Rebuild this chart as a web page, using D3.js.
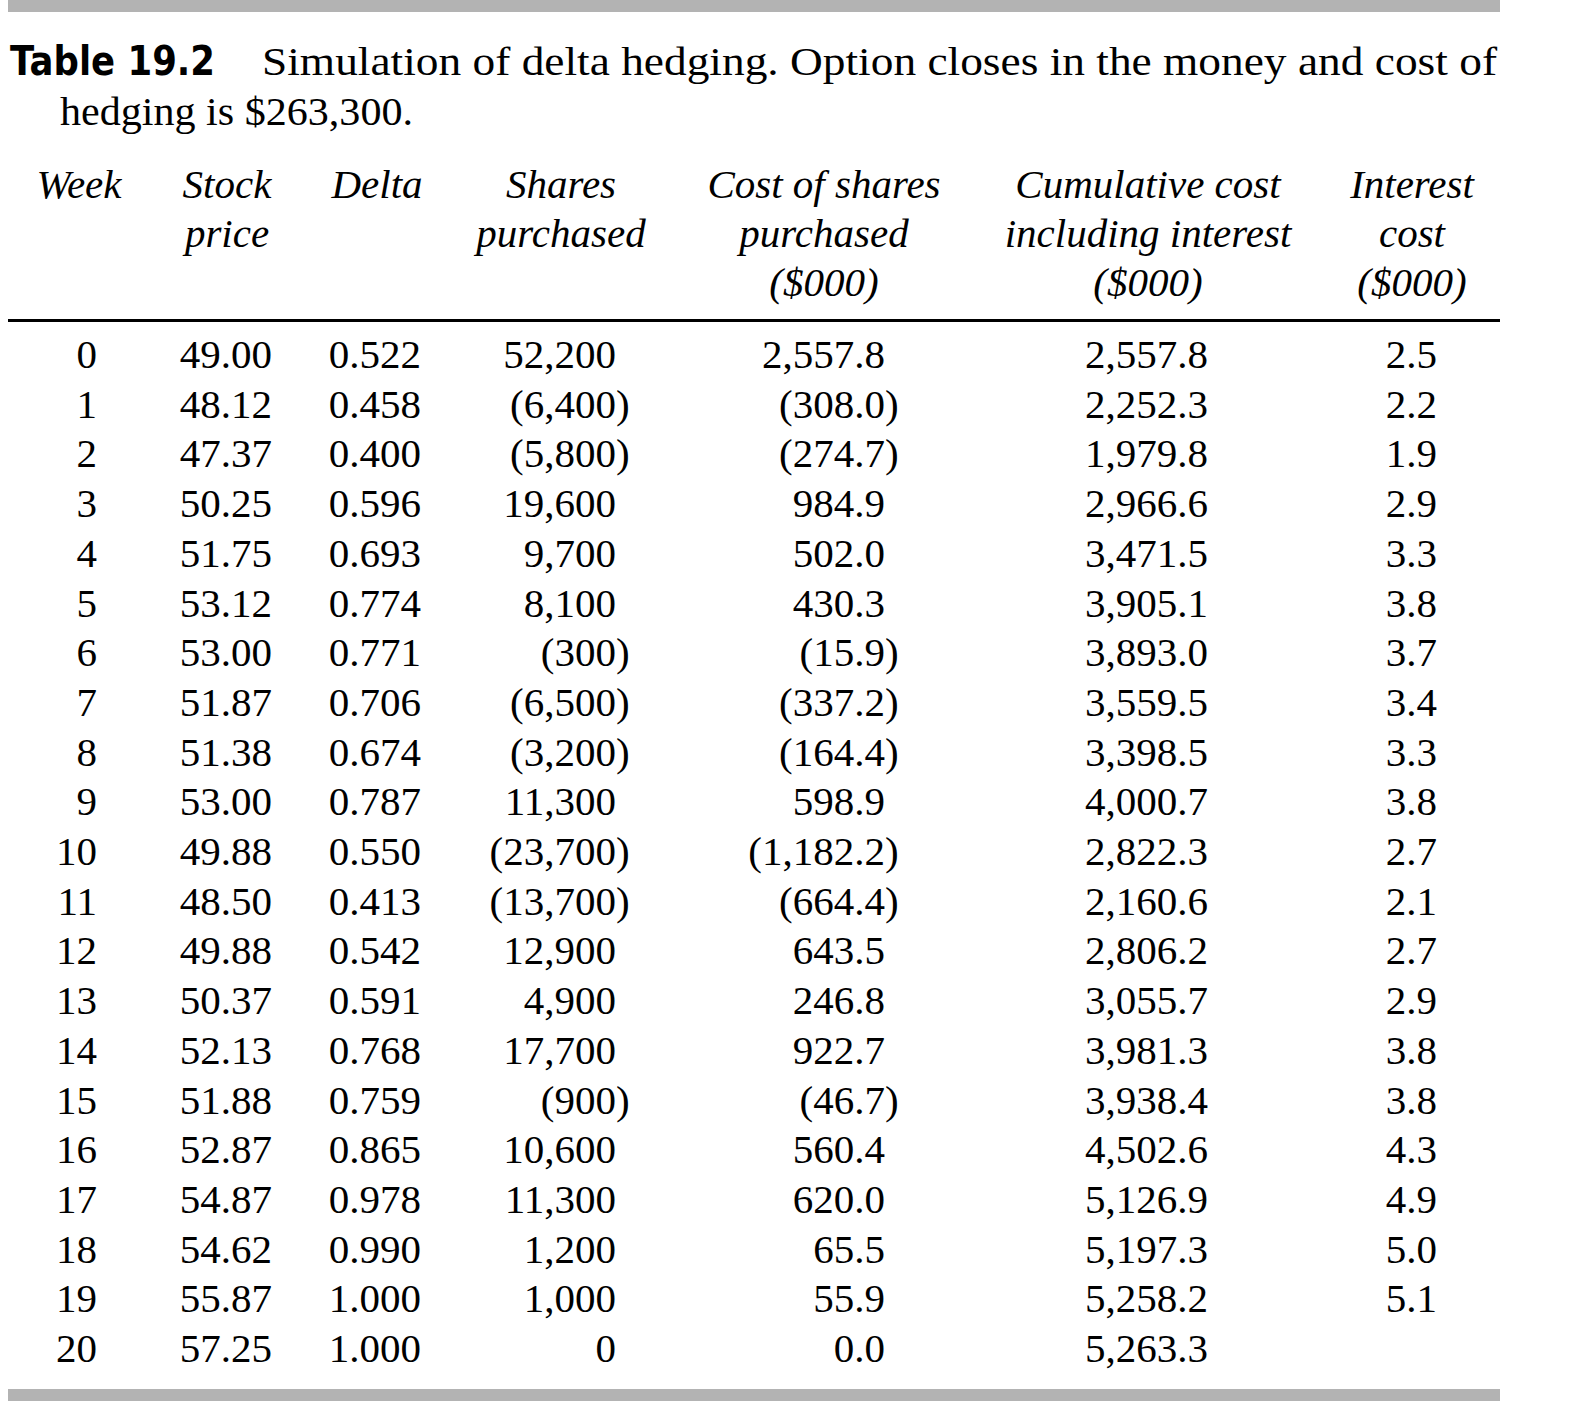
<!DOCTYPE html>
<html>
<head>
<meta charset="utf-8">
<script src="https://cdn.jsdelivr.net/npm/d3@7"></script>
<style>
  html, body { margin: 0; padding: 0; background: #fff; }
  svg { display: block; }
  .serif { font-family: "Liberation Serif", "Times New Roman", serif; }
</style>
</head>
<body>
<div id="chart"></div>
<script>
// ---------------- data ----------------
const titleLabel = "Table 19.2";
const titleLine1 = "Simulation of delta hedging. Option closes in the money and cost of";
const titleLine2 = "hedging is $263,300.";

const columnHeaders = [
  ["Week"],
  ["Stock", "price"],
  ["Delta"],
  ["Shares", "purchased"],
  ["Cost of shares", "purchased", "($000)"],
  ["Cumulative cost", "including interest", "($000)"],
  ["Interest", "cost", "($000)"]
];

const weeks = [0,1,2,3,4,5,6,7,8,9,10,11,12,13,14,15,16,17,18,19,20];
const stockPrice = [49.00,48.12,47.37,50.25,51.75,53.12,53.00,51.87,51.38,53.00,49.88,48.50,49.88,50.37,52.13,51.88,52.87,54.87,54.62,55.87,57.25];
const delta = [0.522,0.458,0.400,0.596,0.693,0.774,0.771,0.706,0.674,0.787,0.550,0.413,0.542,0.591,0.768,0.759,0.865,0.978,0.990,1.000,1.000];
const sharesPurchased = [52200,-6400,-5800,19600,9700,8100,-300,-6500,-3200,11300,-23700,-13700,12900,4900,17700,-900,10600,11300,1200,1000,0];
const costOfShares = [2557.8,-308.0,-274.7,984.9,502.0,430.3,-15.9,-337.2,-164.4,598.9,-1182.2,-664.4,643.5,246.8,922.7,-46.7,560.4,620.0,65.5,55.9,0.0];
const cumulativeCost = [2557.8,2252.3,1979.8,2966.6,3471.5,3905.1,3893.0,3559.5,3398.5,4000.7,2822.3,2160.6,2806.2,3055.7,3981.3,3938.4,4502.6,5126.9,5197.3,5258.2,5263.3];
const interestCost = [2.5,2.2,1.9,2.9,3.3,3.8,3.7,3.4,3.3,3.8,2.7,2.1,2.7,2.9,3.8,3.8,4.3,4.9,5.0,5.1,null];

// ---------------- layout ----------------
const W = 1570, H = 1427;
const FS = 41;
const svg = d3.select("#chart").append("svg")
  .attr("width", W).attr("height", H)
  .attr("viewBox", `0 0 ${W} ${H}`);

svg.append("rect").attr("width", W).attr("height", H).attr("fill", "#fff");

const left = 8, right = 1500;

// top & bottom grey bars
svg.append("rect").attr("x", left).attr("y", 0).attr("width", right - left).attr("height", 12).attr("fill", "#b3b3b3");
svg.append("rect").attr("x", left).attr("y", 1389).attr("width", right - left).attr("height", 12).attr("fill", "#b3b3b3");

// title
svg.append("text")
  .attr("x", 10).attr("y", 75)
  .attr("font-family", "'DejaVu Sans', 'Liberation Sans', sans-serif")
  .attr("font-weight", "bold")
  .attr("font-size", 40)
  .attr("textLength", 205).attr("lengthAdjust", "spacingAndGlyphs")
  .attr("fill", "#000")
  .text(titleLabel);

svg.append("text").attr("class", "serif")
  .attr("x", 262).attr("y", 75)
  .attr("font-size", FS)
  .attr("textLength", 1497 - 262).attr("lengthAdjust", "spacingAndGlyphs")
  .attr("fill", "#000")
  .text(titleLine1);

svg.append("text").attr("class", "serif")
  .attr("x", 60).attr("y", 125)
  .attr("font-size", FS)
  .attr("textLength", 353).attr("lengthAdjust", "spacingAndGlyphs")
  .attr("fill", "#000")
  .text(titleLine2);

// columns: header center and numeric right edge
const colCenter = [79, 227, 377, 561, 824, 1148, 1412];
const colRight  = [97, 272, 421, 616, 885, 1208, 1437];

// header
const headerBaselines = d3.scaleLinear().domain([0, 2]).range([198, 296]);
const hdr = svg.append("g").attr("class", "serif").attr("font-style", "italic").attr("font-size", FS).attr("fill", "#000");
columnHeaders.forEach((lines, ci) => {
  lines.forEach((ln, li) => {
    hdr.append("text")
      .attr("x", colCenter[ci])
      .attr("y", headerBaselines(li))
      .attr("text-anchor", "middle")
      .text(ln);
  });
});

// header rule
svg.append("rect").attr("x", left).attr("y", 319).attr("width", right - left).attr("height", 3).attr("fill", "#000");

// rows
const y = d3.scaleLinear().domain([0, 20]).range([368, 1362]);

const f0 = d3.format(",d"), f1 = d3.format(",.1f"), f2 = d3.format(".2f"), f3 = d3.format(".3f");
const paren = (fmt) => (v) => v == null ? "" : (v < 0 ? "(" + fmt(-v) + ")" : fmt(v));

const columns = [
  { values: weeks, fmt: (v) => String(v) },
  { values: stockPrice, fmt: f2 },
  { values: delta, fmt: f3 },
  { values: sharesPurchased, fmt: paren(f0) },
  { values: costOfShares, fmt: paren(f1) },
  { values: cumulativeCost, fmt: f1 },
  { values: interestCost, fmt: paren(f1) }
];

const body = svg.append("g").attr("class", "serif").attr("font-size", FS).attr("fill", "#000");

// measure the width of a closing parenthesis so parens hang outside the figure column
const probe = body.append("text").text(")");
const parenW = probe.node().getComputedTextLength();
probe.remove();

columns.forEach((col, ci) => {
  body.selectAll(null)
    .data(col.values.map((v, i) => ({ v, i })))
    .join("text")
    .attr("x", d => colRight[ci] + (d.v != null && d.v < 0 ? parenW : 0))
    .attr("y", d => y(weeks[d.i]))
    .attr("text-anchor", "end")
    .text(d => col.fmt(d.v));
});
</script>
</body>
</html>
